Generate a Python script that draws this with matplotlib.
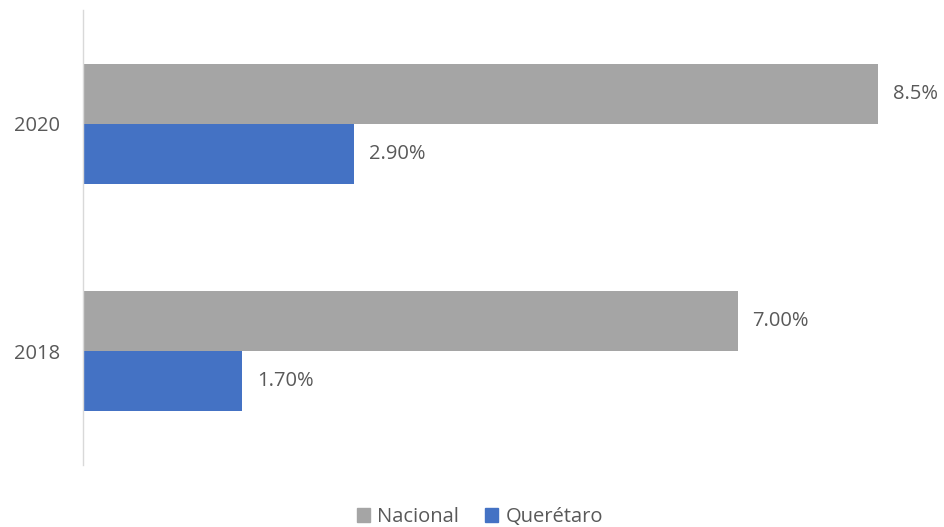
import matplotlib.pyplot as plt
from matplotlib.patches import Patch

plt.rcParams['font.family'] = ['Open Sans', 'DejaVu Sans']

years = ['2018', '2020']
nacional = [7.0, 8.5]
queretaro = [1.7, 2.9]
nacional_labels = ['7.00%', '8.5%']
queretaro_labels = ['1.70%', '2.90%']

gray = '#A5A5A5'
blue = '#4472C4'
txt = '#595959'

fig = plt.figure(figsize=(9.44, 5.27), dpi=100)
ax = fig.add_axes([83 / 944, 1 - 465 / 527, 804 / 944, 455 / 527])

h = 0.263
pos = list(range(len(years)))
ax.barh([p + h / 2 for p in pos], nacional, height=h, color=gray, label='Nacional')
ax.barh([p - h / 2 for p in pos], queretaro, height=h, color=blue, label='Querétaro')

for p, v, s in zip(pos, nacional, nacional_labels):
    ax.text(v + 0.16, p + h / 2, s, va='center', ha='left', fontsize=14.5, color=txt)
for p, v, s in zip(pos, queretaro, queretaro_labels):
    ax.text(v + 0.16, p - h / 2, s, va='center', ha='left', fontsize=14.5, color=txt)

ax.set_xlim(0, 804 / 93.5)
ax.set_ylim(-0.5, 1.5)
ax.set_yticks(pos)
ax.set_yticklabels(years, fontsize=14.5, color=txt)
ax.tick_params(axis='y', length=0, pad=16.5)
ax.set_xticks([])
for side in ['top', 'right', 'bottom']:
    ax.spines[side].set_visible(False)
ax.spines['left'].set_color('#D9D9D9')
ax.spines['left'].set_linewidth(1)

handles = [Patch(color=gray, label='Nacional'), Patch(color=blue, label='Querétaro')]
fig.legend(handles=handles, loc='center', bbox_to_anchor=(480 / 944, 1 - 517 / 527),
           ncol=2, frameon=False, fontsize=14.5, labelcolor=txt,
           handlelength=0.65, handleheight=0.65, handletextpad=0.35, columnspacing=1.3)

fig.savefig('out.png', dpi=100)
